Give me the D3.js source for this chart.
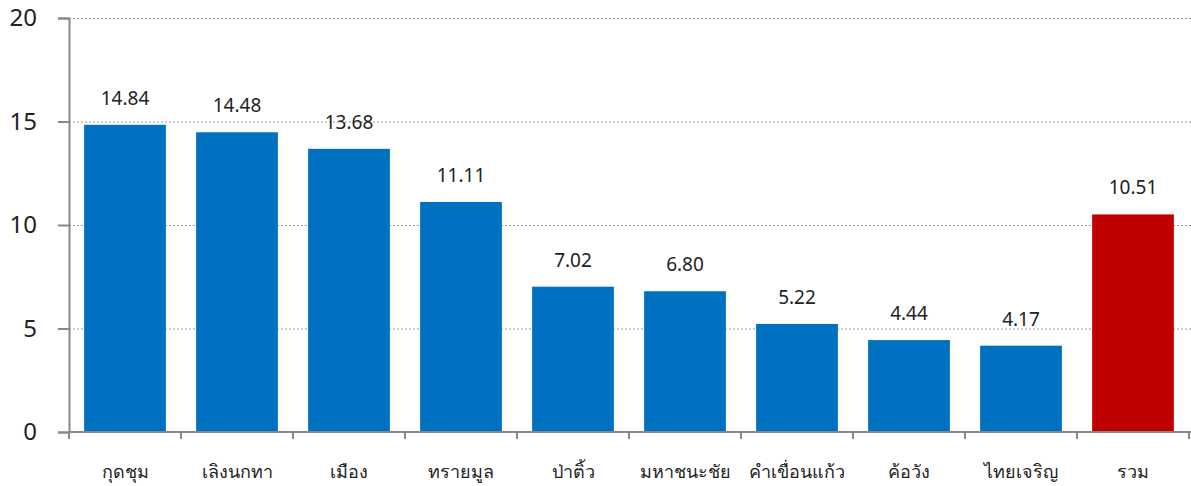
<!DOCTYPE html>
<html><head><meta charset="utf-8">
<script src="https://cdn.jsdelivr.net/npm/d3@7"></script>
<style>body{margin:0;background:#fff}svg{display:block}text{font-family:"Noto Sans","Open Sans",sans-serif}</style>
</head><body>
<svg id="c" width="1191" height="486"></svg>
<script>
const categories = ["กุดชุม","เลิงนกทา","เมือง","ทรายมูล","ป่าติ้ว","มหาชนะชัย","คำเขื่อนแก้ว","ค้อวัง","ไทยเจริญ","รวม"];
const values = [14.84,14.48,13.68,11.11,7.02,6.80,5.22,4.44,4.17,10.51];
const labels = ["14.84","14.48","13.68","11.11","7.02","6.80","5.22","4.44","4.17","10.51"];
const yTicks = [0,5,10,15,20];
const totalCategory = "รวม";

const svg = d3.select("#c");
const mLeft = 69, mRight = 1189, mTop = 18, mBottom = 432;
const x = d3.scaleBand().domain(categories).range([mLeft, mRight]).paddingInner(0.27).paddingOuter(0.135);
const y = d3.scaleLinear().domain([0,20]).range([mBottom, mTop]);

// gridlines
svg.append("g").selectAll("line").data(yTicks.filter(d=>d>0)).join("line")
  .attr("x1", mLeft).attr("x2", 1191).attr("y1", d=>y(d)+0.5).attr("y2", d=>y(d)+0.5)
  .attr("stroke", "#999").attr("stroke-width", 1.2).attr("stroke-dasharray", "2,2");

// bars
svg.append("g").selectAll("rect").data(categories).join("rect")
  .attr("x", d=>x(d)).attr("width", x.bandwidth())
  .attr("y", (d,i)=>y(values[i])).attr("height", (d,i)=>mBottom - y(values[i]))
  .attr("fill", d=> d===totalCategory ? "#c00000" : "#0070c0");

// value labels
svg.append("g").selectAll("text").data(categories).join("text")
  .attr("x", d=>x(d)+x.bandwidth()/2).attr("y", (d,i)=>y(values[i]) - 20)
  .attr("text-anchor","middle").attr("font-size", 19).attr("fill", "#222")
  .text((d,i)=>labels[i]);

// y axis
const yAxis = d3.axisLeft(y).tickValues(yTicks).tickSize(11).tickPadding(21).tickFormat(d3.format("d"));
const gy = svg.append("g").attr("transform", `translate(${mLeft},0)`).call(yAxis);
gy.select(".domain").attr("stroke", "#888").attr("stroke-width", 2);
gy.selectAll(".tick line").attr("stroke", "#888").attr("stroke-width", 2);
gy.selectAll(".tick text").attr("font-size", 24).attr("fill", "#222").attr("font-family","'Noto Sans',sans-serif");

// x axis
const gx = svg.append("g").attr("transform", `translate(0,${mBottom})`);
gx.append("line").attr("x1", mLeft).attr("x2", 1191).attr("y1", 0).attr("y2", 0).attr("stroke", "#888").attr("stroke-width", 2);
const bounds = d3.range(categories.length+1).map(i => mLeft + i*(mRight-mLeft)/categories.length);
gx.selectAll("line.t").data(bounds).join("line").attr("class","t")
  .attr("x1", d=>d).attr("x2", d=>d).attr("y1", 0).attr("y2", 7).attr("stroke", "#888").attr("stroke-width", 2);
gx.selectAll("text").data(categories).join("text")
  .attr("x", d=>x(d)+x.bandwidth()/2).attr("y", 46)
  .attr("text-anchor","middle").attr("font-size", 18).attr("fill", "#222")
  .text(d=>d);
</script>
</body></html>
